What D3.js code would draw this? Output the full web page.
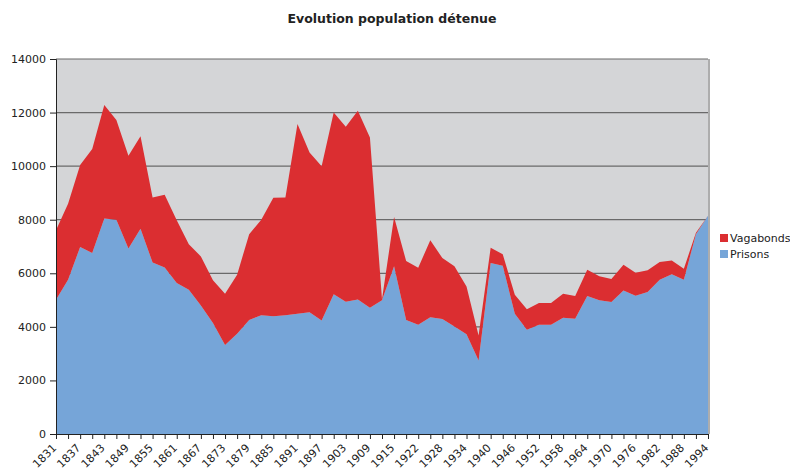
<!DOCTYPE html>
<html>
<head>
<meta charset="utf-8">
<script src="https://cdn.jsdelivr.net/npm/d3@7"></script>
<style>
	body { margin: 0; background: #fff; }
	text { font-family: "DejaVu Sans", Verdana, sans-serif; fill: #222; }
</style>
</head>
<body>
<svg id="chart" width="790" height="470"></svg>
<script>
var years = [1831, 1834, 1837, 1840, 1843, 1846, 1849, 1852, 1855, 1858,
	1861, 1864, 1867, 1870, 1873, 1876, 1879, 1882, 1885, 1888,
	1891, 1894, 1897, 1900, 1903, 1906, 1909, 1912, 1915, 1919,
	1922, 1925, 1928, 1931, 1934, 1937, 1940, 1943, 1946, 1949,
	1952, 1955, 1958, 1961, 1964, 1967, 1970, 1973, 1976, 1979,
	1982, 1985, 1988, 1991, 1994];

var prisons = [5010, 5760, 6980, 6760, 8050, 8000, 6930, 7660, 6400, 6220,
	5640, 5390, 4800, 4140, 3320, 3740, 4260, 4430, 4400, 4430,
	4490, 4550, 4240, 5220, 4940, 5020, 4710, 4990, 6260, 4260,
	4080, 4360, 4290, 4010, 3720, 2740, 6380, 6280, 4490, 3890,
	4080, 4080, 4340, 4300, 5150, 4990, 4930, 5360, 5160, 5300,
	5760, 5960, 5760, 7460, 8150];

var vagabonds = [2600, 2840, 3060, 3880, 4230, 3720, 3460, 3460, 2430, 2710,
	2340, 1690, 1830, 1600, 1920, 2210, 3200, 3570, 4420, 4400,
	7080, 5960, 5760, 6780, 6530, 7050, 6360, 40, 1840, 2200,
	2130, 2870, 2280, 2250, 1790, 940, 570, 430, 710, 770,
	810, 810, 900, 850, 980, 900, 860, 960, 860, 810,
	660, 520, 410, 50, 0];

var seriesNames = ["Prisons", "Vagabonds"];
var seriesColors = { "Prisons": "#76a5d8", "Vagabonds": "#db2e31" };
var yTicks = [0, 2000, 4000, 6000, 8000, 10000, 12000, 14000];

var svg = d3.select("#chart");
var margin = { left: 56, top: 59, right: 82, bottom: 36 };
var width = 790 - margin.left - margin.right,
	height = 470 - margin.top - margin.bottom;

var rows = years.map(function(y, i) {
	return { year: y, Prisons: prisons[i], Vagabonds: vagabonds[i] };
});

var x = d3.scalePoint().domain(years).range([0, width]);
var y = d3.scaleLinear().domain([0, 14000]).range([height, 0]);

var stack = d3.stack().keys(seriesNames);
var layers = stack(rows);

var root = svg.append("g").attr("transform", "translate(" + margin.left + "," + margin.top + ")");

// plot background
root.append("rect")
	.attr("width", width).attr("height", height)
	.attr("fill", "#d4d5d7");

// gridlines
root.append("g")
	.selectAll("line")
	.data(yTicks.slice(1))
	.join("line")
	.attr("x1", 0).attr("x2", width)
	.attr("y1", function(d) { return y(d); })
	.attr("y2", function(d) { return y(d); })
	.attr("stroke", "#6a6a6a")
	.attr("stroke-width", 1.2);

var area = d3.area()
	.x(function(d) { return x(d.data.year); })
	.y0(function(d) { return y(d[0]); })
	.y1(function(d) { return y(d[1]); });

root.append("g")
	.selectAll("path")
	.data(layers)
	.join("path")
	.attr("d", area)
	.attr("fill", function(d) { return seriesColors[d.key]; });

// right border
root.append("line")
	.attr("x1", width + 1).attr("x2", width + 1)
	.attr("y1", 0).attr("y2", height)
	.attr("stroke", "#adadad").attr("stroke-width", 2);

// y axis
var yAxis = root.append("g")
	.call(d3.axisLeft(y).tickValues(yTicks).tickSize(6).tickPadding(4).tickFormat(d3.format("d")));
yAxis.select(".domain").attr("stroke", "#222");
yAxis.selectAll(".tick line").attr("stroke", "#222");
yAxis.selectAll("text").style("font-size", "11px").attr("fill", "#222");

// x axis (label every other category)
var xAxis = root.append("g")
	.attr("transform", "translate(0," + height + ")")
	.call(d3.axisBottom(x).tickSize(5).tickFormat(function(d, i) { return i % 2 === 0 ? d : ""; }));
xAxis.select(".domain").attr("stroke", "#222");
xAxis.selectAll(".tick line").attr("stroke", "#222");
xAxis.selectAll("text")
	.style("font-size", "11px")
	.attr("fill", "#222")
	.attr("text-anchor", "end")
	.attr("dy", "0")
	.attr("transform", "translate(-5,9) rotate(-45)");

// title
svg.append("text")
	.attr("x", 392).attr("y", 23)
	.attr("text-anchor", "middle")
	.style("font-size", "12.5px")
	.style("font-weight", "bold")
	.text("Evolution population détenue");

// legend
var legend = svg.append("g").attr("transform", "translate(720,234)");
var legendItems = ["Vagabonds", "Prisons"];
legendItems.forEach(function(name, i) {
	var g = legend.append("g").attr("transform", "translate(0," + (i * 16) + ")");
	g.append("rect").attr("width", 8).attr("height", 8).attr("fill", seriesColors[name]);
	g.append("text").attr("x", 10).attr("y", 8).style("font-size", "11px").text(name);
});
</script>
</body>
</html>
